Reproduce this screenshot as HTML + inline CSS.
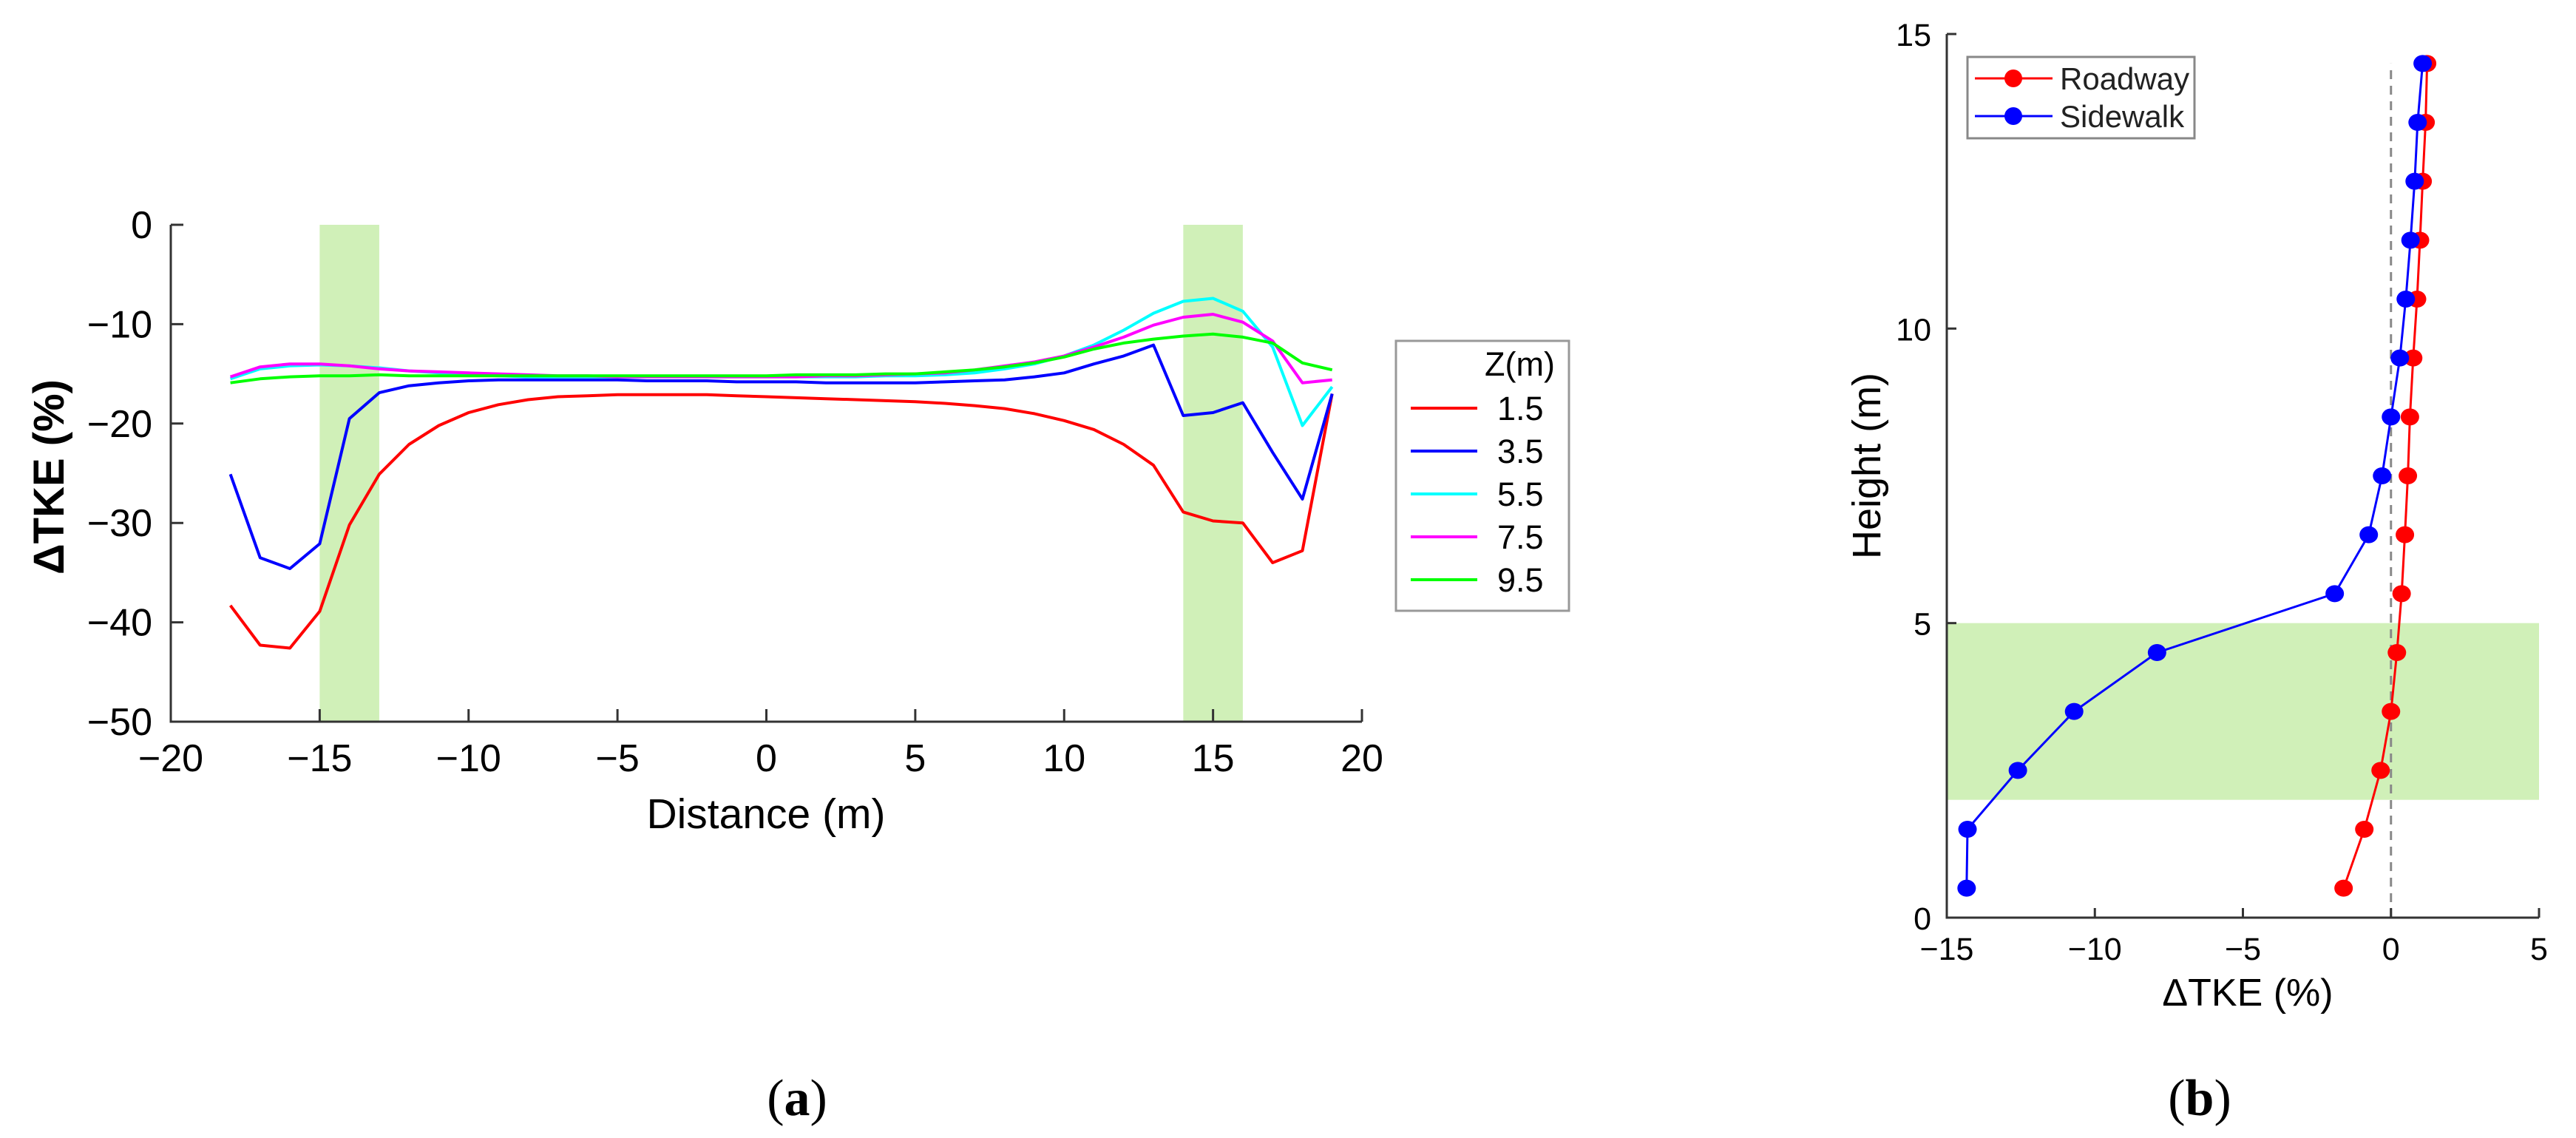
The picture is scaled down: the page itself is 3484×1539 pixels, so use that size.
<!DOCTYPE html>
<html><head><meta charset="utf-8"><style>
html,body{margin:0;padding:0;background:#fff;}
svg{display:block;font-family:"Liberation Sans",sans-serif;}
</style></head><body>
<svg id="fig" width="3484" height="1539" viewBox="0 0 3484 1539" xmlns="http://www.w3.org/2000/svg">
<g id="pa"></g>
<g id="pb"></g>
<text x="1078" y="1508" font-family="Liberation Serif,serif" font-size="70" text-anchor="middle">(<tspan font-weight="bold">a</tspan>)</text>
<text x="2975" y="1508" font-family="Liberation Serif,serif" font-size="70" text-anchor="middle">(<tspan font-weight="bold">b</tspan>)</text>
</svg>
<script>
// ---------- Panel (a) data ----------
const distA = [-18,-17,-16,-15,-14,-13,-12,-11,-10,-9,-8,-7,-6,-5,-4,-3,-2,-1,0,1,2,3,4,5,6,7,8,9,10,11,12,13,14,15,16,17,18,19];
const z15 = [-38.3,-42.3,-42.6,-38.9,-30.2,-25.1,-22.1,-20.2,-18.9,-18.1,-17.6,-17.3,-17.2,-17.1,-17.1,-17.1,-17.1,-17.2,-17.3,-17.4,-17.5,-17.6,-17.7,-17.8,-17.97,-18.2,-18.5,-19.0,-19.7,-20.6,-22.1,-24.2,-28.9,-29.8,-30.0,-34.0,-32.8,-17.0];
const z35 = [-25.1,-33.5,-34.6,-32.1,-19.5,-16.9,-16.2,-15.9,-15.7,-15.6,-15.6,-15.6,-15.6,-15.6,-15.7,-15.7,-15.7,-15.8,-15.8,-15.8,-15.9,-15.9,-15.9,-15.9,-15.8,-15.7,-15.6,-15.3,-14.9,-14.0,-13.2,-12.1,-19.2,-18.9,-17.9,-22.9,-27.6,-17.0];
const z55 = [-15.5,-14.5,-14.2,-14.1,-14.2,-14.4,-14.7,-14.9,-15.1,-15.2,-15.3,-15.3,-15.3,-15.3,-15.3,-15.3,-15.3,-15.3,-15.3,-15.3,-15.3,-15.3,-15.2,-15.2,-15.1,-14.9,-14.5,-14.0,-13.2,-12.1,-10.6,-8.9,-7.7,-7.4,-8.7,-12.3,-20.2,-16.3];
const z75 = [-15.3,-14.3,-14.0,-14.0,-14.2,-14.5,-14.7,-14.8,-14.9,-15.0,-15.1,-15.2,-15.2,-15.3,-15.3,-15.3,-15.3,-15.3,-15.3,-15.3,-15.2,-15.2,-15.1,-15.0,-14.9,-14.6,-14.2,-13.8,-13.2,-12.3,-11.3,-10.1,-9.3,-9.0,-9.8,-11.7,-15.9,-15.6];
const z95 = [-15.9,-15.5,-15.3,-15.2,-15.2,-15.1,-15.2,-15.2,-15.2,-15.2,-15.2,-15.2,-15.2,-15.2,-15.2,-15.2,-15.2,-15.2,-15.2,-15.1,-15.1,-15.1,-15.0,-15.0,-14.8,-14.6,-14.3,-13.9,-13.3,-12.5,-11.9,-11.5,-11.2,-11.0,-11.3,-11.9,-13.9,-14.6];
const seriesNamesA = ["1.5","3.5","5.5","7.5","9.5"];
const colorsA = ["#ff0000","#0000ff","#00ffff","#ff00ff","#00ff00"];
const xTicksA = [-20,-15,-10,-5,0,5,10,15,20];
const yTicksA = [0,-10,-20,-30,-40,-50];
const bandsA = [[-15,-13],[14,16]];

// ---------- Panel (b) data ----------
const heightsB = [0.5,1.5,2.5,3.5,4.5,5.5,6.5,7.5,8.5,9.5,10.5,11.5,12.5,13.5,14.5];
const roadway = [-1.6,-0.9,-0.35,0.0,0.2,0.36,0.47,0.57,0.64,0.75,0.88,0.98,1.07,1.17,1.22];
const sidewalk = [-14.33,-14.3,-12.6,-10.7,-7.9,-1.9,-0.75,-0.3,0.0,0.3,0.5,0.66,0.8,0.9,1.07];
const xTicksB = [-15,-10,-5,0,5];
const yTicksB = [0,5,10,15];
const bandB = [2,5];

const NS = "http://www.w3.org/2000/svg";
function mk(parent, tag, attrs){const e=document.createElementNS(NS,tag);for(const k in attrs)e.setAttribute(k,attrs[k]);parent.appendChild(e);return e;}

// ---------- Panel (a) ----------
const pa = document.getElementById('pa');
const ax = v => 231 + (v + 20) * (1842 - 231) / 40;
const ay = v => 304 + (-v) * (976 - 304) / 50;
bandsA.forEach((b,i)=>{
  const r = mk(pa,'rect',{x:ax(b[0]),y:ay(0),width:ax(b[1])-ax(b[0]),height:ay(-50)-ay(0),fill:'#d0f0b8'});
  
  
});
const seriesA = [z15,z35,z55,z75,z95];
const drawOrder = [0,1,2,3,4];
drawOrder.forEach(i=>{
  const d = seriesA[i].map((v,j)=>(j?'L':'M')+ax(distA[j]).toFixed(1)+','+ay(v).toFixed(1)).join(' ');
  const p = mk(pa,'path',{d:d,fill:'none',stroke:colorsA[i],'stroke-width':4,'stroke-linejoin':'round'});
  
  
});
// axes
let axl = mk(pa,'path',{d:`M${ax(-20)},${ay(0)} L${ax(-20)},${ay(-50)} L${ax(20)},${ay(-50)}`,fill:'none',stroke:'#333','stroke-width':3});


xTicksA.forEach(t=>{
  mk(pa,'line',{x1:ax(t),x2:ax(t),y1:ay(-50),y2:ay(-50)-17,stroke:'#333','stroke-width':3});
  const tx = mk(pa,'text',{x:ax(t),y:1043,'font-size':52,'text-anchor':'middle'});
  tx.textContent = String(t).replace('-','\u2212');
  
  
});
yTicksA.forEach(t=>{
  mk(pa,'line',{x1:ax(-20),x2:ax(-20)+17,y1:ay(t),y2:ay(t),stroke:'#333','stroke-width':3});
  const tx = mk(pa,'text',{x:206,y:ay(t)+18,'font-size':52,'text-anchor':'end'});
  tx.textContent = String(t).replace('-','\u2212');
  
  
});
let xt = mk(pa,'text',{x:1036,y:1120,'font-size':57,'text-anchor':'middle'});
xt.textContent = 'Distance (m)';


let yt = mk(pa,'text',{x:0,y:0,'font-size':58,'font-weight':'bold','text-anchor':'middle',transform:'translate(86,645) rotate(-90)'});
yt.textContent = '\u0394TKE (%)';


// legend a
let lg = mk(pa,'g',{});


mk(lg,'rect',{x:1888,y:461,width:234,height:365,fill:'#fff',stroke:'#999','stroke-width':3});
let lt = mk(lg,'text',{x:2103,y:508,'font-size':45,'text-anchor':'end'});
lt.textContent = 'Z(m)';


seriesNamesA.forEach((n,i)=>{
  const yy = 552 + i*58;
  const g = mk(lg,'g',{});
  
  
  mk(g,'line',{x1:1908,x2:1998,y1:yy,y2:yy,stroke:colorsA[i],'stroke-width':4});
  const t = mk(g,'text',{x:2025,y:yy+16,'font-size':45});
  t.textContent = n;
});

// ---------- Panel (b) ----------
const pb = document.getElementById('pb');
const bx = v => 2633 + (v + 15) * (3434 - 2633) / 20;
const by = v => 1241 - v * (1241 - 46) / 15;
let band = mk(pb,'rect',{x:bx(-15),y:by(bandB[1]),width:bx(5)-bx(-15),height:by(bandB[0])-by(bandB[1]),fill:'#d0f0b8'});


let zl = mk(pb,'line',{x1:bx(0),x2:bx(0),y1:by(0),y2:by(14.5),stroke:'#888','stroke-width':3,'stroke-dasharray':'12,9'});


[[roadway,'#ff0000','roadway'],[sidewalk,'#0000ff','sidewalk']].forEach(s=>{
  const g = mk(pb,'g',{});
  
  
  const d = s[0].map((v,j)=>(j?'L':'M')+bx(v).toFixed(1)+','+by(heightsB[j]).toFixed(1)).join(' ');
  mk(g,'path',{d:d,fill:'none',stroke:s[1],'stroke-width':3});
  s[0].forEach((v,j)=>{
    const c = mk(g,'ellipse',{cx:bx(v),cy:by(heightsB[j]),rx:12.5,ry:11.5,fill:s[1]});
    
    
  });
});
let bxl = mk(pb,'path',{d:`M${bx(-15)},${by(15)} L${bx(-15)},${by(0)} L${bx(5)},${by(0)}`,fill:'none',stroke:'#333','stroke-width':3});


xTicksB.forEach(t=>{
  mk(pb,'line',{x1:bx(t),x2:bx(t),y1:by(0),y2:by(0)-13,stroke:'#333','stroke-width':3});
  const tx = mk(pb,'text',{x:bx(t),y:1298,'font-size':43,'text-anchor':'middle'});
  tx.textContent = String(t).replace('-','\u2212');
  
  
});
yTicksB.forEach(t=>{
  mk(pb,'line',{x1:bx(-15),x2:bx(-15)+13,y1:by(t),y2:by(t),stroke:'#333','stroke-width':3});
  const tx = mk(pb,'text',{x:2612,y:by(t)+16,'font-size':43,'text-anchor':'end'});
  tx.textContent = String(t);
  
  
});
let xtb = mk(pb,'text',{x:3040,y:1360,'font-size':52,'text-anchor':'middle'});
xtb.textContent = '\u0394TKE (%)';


let ytb = mk(pb,'text',{x:0,y:0,'font-size':54,'text-anchor':'middle',transform:'translate(2543,630) rotate(-90)'});
ytb.textContent = 'Height (m)';


let lgb = mk(pb,'g',{});


mk(lgb,'rect',{x:2661,y:77,width:307,height:110,fill:'#fff',stroke:'#888','stroke-width':3});
[['Roadway','#ff0000',106],['Sidewalk','#0000ff',157]].forEach(e=>{
  const g = mk(lgb,'g',{});
  
  
  mk(g,'line',{x1:2671,x2:2776,y1:e[2],y2:e[2],stroke:e[1],'stroke-width':3});
  mk(g,'circle',{cx:2723,cy:e[2],r:12,fill:e[1]});
  const t = mk(g,'text',{x:2786,y:e[2]+15,'font-size':42,fill:'#222'});
  t.textContent = e[0];
});
</script>
</body></html>
